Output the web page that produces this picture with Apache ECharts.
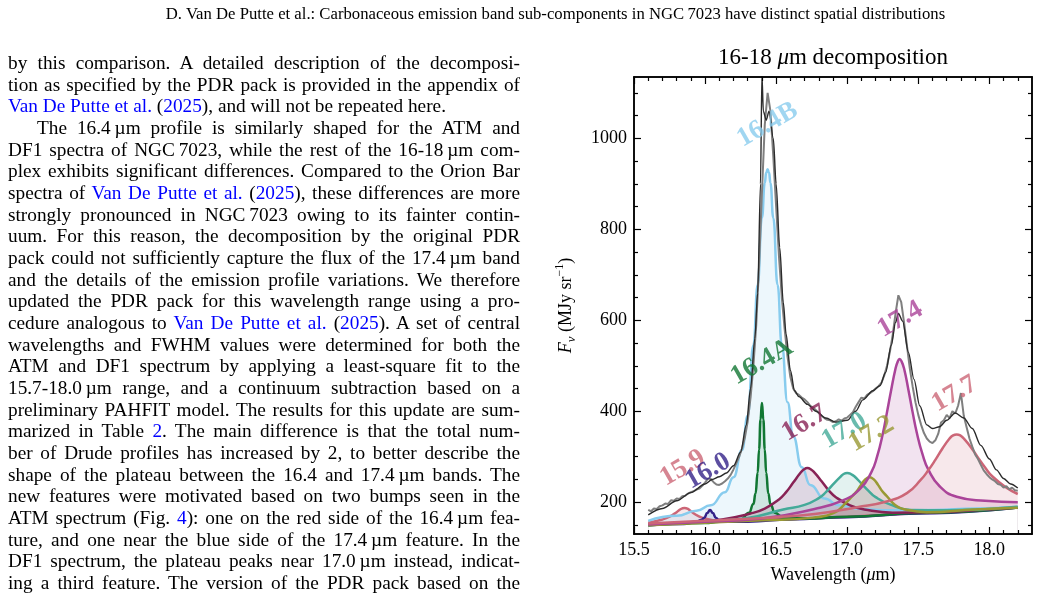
<!DOCTYPE html>
<html>
<head>
<meta charset="utf-8">
<script src="https://cdn.jsdelivr.net/npm/echarts@6/dist/echarts.min.js"></script>
<style>
html, body { margin: 0; padding: 0; background: #fff; }
#chart { position: absolute; left: 0; top: 0; width: 1039px; height: 604px; }
.page { position: absolute; font-family: "Liberation Serif", "Times New Roman", serif; color: #000; }
#header { left: 36px; top: 4px; width: 1039px; text-align: center; font-size: 16.7px; line-height: 20px; }
#col { left: 8px; top: 52px; width: 512px; font-size: 19.3px; line-height: 21.67px; }
#col div { text-align: justify; text-align-last: justify; white-space: nowrap; }
#col div.end { text-align-last: left; }
#col div.ind { text-indent: 29px; }
#col span { color: #0000ff; }
</style>
</head>
<body>
<div id="chart"></div>
<div id="header" class="page">D. Van De Putte et al.: Carbonaceous emission band sub-components in NGC&#8201;7023 have distinct spatial distributions</div>
<div id="col" class="page">
<div>by this comparison. A detailed description of the decomposi-</div>
<div>tion as specified by the PDR pack is provided in the appendix of</div>
<div class="end"><span>Van De Putte et al.</span> (<span>2025</span>), and will not be repeated here.</div>
<div class="ind">The 16.4&#8201;µm profile is similarly shaped for the ATM and</div>
<div>DF1 spectra of NGC&#8201;7023, while the rest of the 16-18&#8201;µm com-</div>
<div>plex exhibits significant differences. Compared to the Orion Bar</div>
<div>spectra of <span>Van De Putte et al.</span> (<span>2025</span>), these differences are more</div>
<div>strongly pronounced in NGC&#8201;7023 owing to its fainter contin-</div>
<div>uum. For this reason, the decomposition by the original PDR</div>
<div>pack could not sufficiently capture the flux of the 17.4&#8201;µm band</div>
<div>and the details of the emission profile variations. We therefore</div>
<div>updated the PDR pack for this wavelength range using a pro-</div>
<div>cedure analogous to <span>Van De Putte et al.</span> (<span>2025</span>). A set of central</div>
<div>wavelengths and FWHM values were determined for both the</div>
<div>ATM and DF1 spectrum by applying a least-square fit to the</div>
<div>15.7-18.0&#8201;µm range, and a continuum subtraction based on a</div>
<div>preliminary PAHFIT model. The results for this update are sum-</div>
<div>marized in Table <span>2</span>. The main difference is that the total num-</div>
<div>ber of Drude profiles has increased by 2, to better describe the</div>
<div>shape of the plateau between the 16.4 and 17.4&#8201;µm bands. The</div>
<div>new features were motivated based on two bumps seen in the</div>
<div>ATM spectrum (Fig. <span>4</span>): one on the red side of the 16.4&#8201;µm fea-</div>
<div>ture, and one near the blue side of the 17.4&#8201;µm feature. In the</div>
<div>DF1 spectrum, the plateau peaks near 17.0&#8201;µm instead, indicat-</div>
<div>ing a third feature. The version of the PDR pack based on the</div>
</div>
<script>
// ---- data: [wavelength (um), F_nu (MJy/sr)] ----
var continuum = [[15.6,148],[16.0,153],[16.5,160],[17.0,167],[17.5,175],[18.0,184],[18.2,188]];

var band159 = [[15.6,155],[15.7,162],[15.75,168],[15.8,178],[15.83,185],[15.855,187],[15.88,185],[15.9,180],[15.95,170],[16.0,164],[16.1,159],[16.3,160],[16.6,163],[17.0,168],[17.5,176],[18.2,189]];
var band160 = [[15.6,149],[15.85,152],[15.935,156],[15.975,161],[15.995,166],[16.015,176],[16.035,183],[16.055,176],[16.075,166],[16.095,161],[16.135,157],[16.3,157],[16.6,162],[17.0,167],[17.5,175],[18.2,188]];
var band164A = [[15.6,149],[16.0,154],[16.1,157],[16.25,162],[16.31,177],[16.34,196],[16.355,219],[16.37,265],[16.38,316],[16.39,382],[16.40,418],[16.41,382],[16.42,316],[16.43,265],[16.445,219],[16.46,196],[16.49,177],[16.55,166],[16.7,164],[17.0,168],[17.5,176],[18.2,188]];
var band164B = [[15.6,159],[15.8,170],[15.94,181],[16.04,193],[16.14,222],[16.2,255],[16.26,315],[16.3,390],[16.34,545],[16.37,678],[16.40,825],[16.42,902],[16.43,925],[16.44,932],[16.45,925],[16.46,902],[16.48,825],[16.51,678],[16.54,545],[16.58,420],[16.62,345],[16.68,277],[16.74,238],[16.84,208],[16.94,193],[17.1,185],[17.3,182],[17.6,183],[17.9,186],[18.2,190]];
var band167 = [[15.6,151],[15.9,156],[16.12,162],[16.32,175],[16.42,186],[16.52,206],[16.57,222],[16.62,243],[16.67,264],[16.695,272],[16.72,275],[16.745,272],[16.77,265],[16.82,246],[16.87,226],[16.92,211],[17.02,193],[17.12,184],[17.32,177],[17.6,178],[18.0,184],[18.2,188]];
var band170 = [[15.6,150],[16.0,158],[16.3,165],[16.55,184],[16.7,194],[16.8,209],[16.85,222],[16.9,239],[16.95,255],[16.975,262],[17.0,264],[17.025,262],[17.05,257],[17.1,241],[17.15,225],[17.2,211],[17.3,195],[17.45,183],[17.7,182],[18.2,190]];
var band172 = [[15.6,149],[16.4,160],[16.76,166],[16.91,177],[16.977,194],[17.037,214],[17.067,224],[17.097,238],[17.127,250],[17.157,255],[17.187,250],[17.217,238],[17.247,224],[17.277,214],[17.337,194],[17.407,184],[17.557,178],[17.9,184],[18.2,188]];
var band174 = [[15.6,151],[16.0,157],[16.4,164],[16.77,185],[16.97,204],[17.09,229],[17.17,266],[17.21,300],[17.25,350],[17.28,398],[17.31,448],[17.34,494],[17.355,509],[17.368,515],[17.383,509],[17.40,494],[17.43,448],[17.46,398],[17.49,352],[17.53,305],[17.57,272],[17.65,235],[17.77,212],[17.97,203],[18.2,200]];
var band177 = [[15.6,153],[16.0,159],[16.5,167],[16.77,174],[17.07,189],[17.27,201],[17.42,220],[17.52,250],[17.57,270],[17.62,293],[17.67,318],[17.72,340],[17.745,347],[17.77,349],[17.795,347],[17.82,340],[17.87,321],[17.92,298],[17.97,276],[18.02,257],[18.12,232],[18.2,218]];

var modelTotal = [[15.6,172],[15.7,186],[15.8,203],[15.9,221],[16.0,240],[16.05,250],[16.1,256],[16.15,264],[16.2,280],[16.25,310],[16.29,370],[16.32,450],[16.35,560],[16.37,660],[16.39,900],[16.40,1140],[16.41,1060],[16.43,1040],[16.45,1060],[16.48,1000],[16.5,900],[16.525,760],[16.55,640],[16.57,570],[16.6,490],[16.63,445],[16.66,432],[16.72,415],[16.78,400],[16.85,385],[16.92,376],[17.0,380],[17.06,400],[17.11,425],[17.18,445],[17.23,456],[17.27,485],[17.31,545],[17.34,595],[17.36,615],[17.39,598],[17.43,530],[17.47,470],[17.51,412],[17.56,370],[17.6,362],[17.65,366],[17.7,380],[17.76,396],[17.82,385],[17.88,362],[17.94,325],[18.0,295],[18.05,271],[18.1,252],[18.15,240],[18.2,231]];

var observed = [[15.60,183],[15.62,180],[15.64,186],[15.66,185],[15.68,191],[15.70,193],[15.72,197],[15.74,196],[15.76,204],[15.78,203],[15.80,208],[15.82,207],[15.84,213],[15.86,214],[15.88,219],[15.90,222],[15.92,224],[15.94,228],[15.96,230],[15.98,236],[16.00,243],[16.02,252],[16.04,251],[16.06,244],[16.08,239],[16.10,238],[16.12,241],[16.14,246],[16.16,252],[16.18,260],[16.20,272],[16.22,286],[16.24,300],[16.26,318],[16.28,342],[16.30,378],[16.32,430],[16.34,500],[16.36,590],[16.38,720],[16.40,880],[16.42,1030],[16.44,1100],[16.46,1060],[16.48,960],[16.50,850],[16.52,740],[16.54,650],[16.56,580],[16.58,520],[16.60,475],[16.62,450],[16.64,440],[16.66,436],[16.68,430],[16.70,426],[16.72,420],[16.74,412],[16.76,408],[16.78,402],[16.80,396],[16.82,390],[16.84,385],[16.86,381],[16.88,380],[16.90,376],[16.92,378],[16.94,382],[16.96,379],[16.98,384],[17.00,386],[17.02,392],[17.04,398],[17.06,410],[17.08,420],[17.10,430],[17.12,428],[17.14,436],[17.16,440],[17.18,444],[17.20,450],[17.22,455],[17.24,462],[17.26,478],[17.28,500],[17.30,530],[17.32,568],[17.34,615],[17.36,655],[17.38,640],[17.40,595],[17.42,545],[17.44,495],[17.46,455],[17.48,420],[17.50,392],[17.52,370],[17.54,352],[17.56,340],[17.58,333],[17.60,330],[17.62,336],[17.64,350],[17.66,375],[17.68,380],[17.70,392],[17.72,385],[17.74,400],[17.76,395],[17.78,412],[17.80,440],[17.82,390],[17.84,365],[17.86,340],[17.88,322],[17.90,305],[17.92,295],[17.94,282],[17.96,270],[17.98,262],[18.00,255],[18.02,250],[18.04,246],[18.06,240],[18.08,238],[18.10,232],[18.12,235],[18.14,228],[18.16,232],[18.18,226],[18.20,225]];

var bandNames = ['15.9', '16.0', '16.4A', '16.4B', '16.7', '17.0', '17.2', '17.4', '17.7'];
var labelSpots = [[15.843,275],[16.02,268],[16.40,508],[16.44,1030],[16.70,374],[16.98,357],[17.17,350],[17.373,602],[17.755,438]];

var xMajor = [15.5, 16.0, 16.5, 17.0, 17.5, 18.0];
var xMinor = [15.6,15.7,15.8,15.9,16.1,16.2,16.3,16.4,16.6,16.7,16.8,16.9,17.1,17.2,17.3,17.4,17.6,17.7,17.8,17.9,18.1,18.2];
var yMajor = [200, 400, 600, 800, 1000];
var yMinor = [150,250,300,350,450,500,550,650,700,750,850,900,950,1050,1100];

// ---- styles ----
var bandData = [band159, band160, band164A, band164B, band167, band170, band172, band174, band177];
var bandColors = ['#cc6677', '#332288', '#117733', '#88ccee', '#882255', '#44aa99', '#999933', '#aa4499', '#cc6677'];
// narrow bands keep monotone smoothing so the spikes do not overshoot
var bandMonotone = [false, true, true, true, false, false, false, false, false];
var serif = '"Liberation Serif", "Times New Roman", serif';

var chart = echarts.init(document.getElementById('chart'), null, { renderer: 'canvas' });

function xAxisDef(pos, ticks, len, withLabels) {
	return {
		type: 'value', position: pos, min: 15.5, max: 18.3, z: 10,
		axisLine: { show: true, onZero: false, lineStyle: { color: '#000', width: 1.5 } },
		axisTick: { show: true, inside: true, length: len, customValues: ticks, lineStyle: { color: '#000', width: 1.2 } },
		axisLabel: { show: withLabels, customValues: ticks, margin: 7, fontSize: 18, fontFamily: serif, color: '#000',
			formatter: function (v) { return v.toFixed(1); } },
		splitLine: { show: false }
	};
}
function yAxisDef(pos, ticks, len, withLabels) {
	return {
		type: 'value', position: pos, min: 130, max: 1135, z: 10,
		axisLine: { show: true, onZero: false, lineStyle: { color: '#000', width: 1.5 } },
		axisTick: { show: true, inside: true, length: len, customValues: ticks, lineStyle: { color: '#000', width: 1.2 } },
		axisLabel: { show: withLabels, customValues: ticks, margin: 7, fontSize: 18, fontFamily: serif, color: '#000',
			formatter: function (v) { return String(v); } },
		splitLine: { show: false }
	};
}

var xAxes = [xAxisDef('bottom', xMajor, 7, true), xAxisDef('bottom', xMinor, 4, false),
	xAxisDef('top', xMajor, 7, false), xAxisDef('top', xMinor, 4, false)];
xAxes[0].name = 'Wavelength ({i|μ}m)';
xAxes[0].nameLocation = 'middle';
xAxes[0].nameGap = 32;
xAxes[0].nameTextStyle = { fontSize: 18, fontFamily: serif, color: '#000',
	rich: { i: { fontSize: 18, fontFamily: serif, fontStyle: 'italic', color: '#000' } } };

var yAxes = [yAxisDef('left', yMajor, 7, true), yAxisDef('left', yMinor, 4, false),
	yAxisDef('right', yMajor, 7, false), yAxisDef('right', yMinor, 4, false)];
yAxes[0].name = '{i|F}{sub|ν} (MJy sr{sup|−1})';
yAxes[0].nameLocation = 'middle';
yAxes[0].nameRotate = 90;
yAxes[0].nameGap = 56;
yAxes[0].nameTextStyle = { fontSize: 18, fontFamily: serif, color: '#000', lineHeight: 24,
	rich: {
		i: { fontSize: 18, fontFamily: serif, fontStyle: 'italic', color: '#000', lineHeight: 24 },
		sub: { fontSize: 13, fontFamily: serif, fontStyle: 'italic', color: '#000', verticalAlign: 'bottom', lineHeight: 13 },
		sup: { fontSize: 12, fontFamily: serif, color: '#000', verticalAlign: 'top', lineHeight: 12 }
	} };

var series = [];
bandData.forEach(function (d, i) {
	var mono = bandMonotone[i] ? 'x' : null;
	// fill under the band (z 1)
	series.push({ type: 'line', data: d, smooth: 0.5, smoothMonotone: mono, symbol: 'none', z: 1,
		lineStyle: { width: 0 }, areaStyle: { color: bandColors[i], opacity: 0.15 }, silent: true });
	// outline (z 3)
	series.push({ type: 'line', data: d, smooth: 0.5, smoothMonotone: mono, symbol: 'none', z: 3,
		lineStyle: { color: bandColors[i], width: 2.5 }, silent: true });
});
// white mask below the continuum, so that fills only sit between continuum and band
series.push({ type: 'line', data: continuum, symbol: 'none', z: 2,
	lineStyle: { width: 0 }, areaStyle: { color: '#fff', opacity: 1 }, silent: true });
series.push({ type: 'line', data: observed, symbol: 'none', z: 4,
	lineStyle: { color: '#7f7f7f', width: 2 }, silent: true });
series.push({ type: 'line', data: modelTotal, smooth: 0.3, smoothMonotone: 'x', symbol: 'none', z: 5,
	lineStyle: { color: '#2b2b2b', width: 1.4 }, silent: true });
series.push({ type: 'scatter', z: 6, symbolSize: 1, itemStyle: { color: 'rgba(0,0,0,0)' }, silent: true,
	data: bandNames.map(function (n, i) {
		return { name: n, value: labelSpots[i],
			label: { show: true, position: 'inside', rotate: 30, formatter: '{b}', color: bandColors[i],
				fontSize: 27, fontWeight: 'bold', fontFamily: serif } };
	}) });

chart.setOption({
	animation: false,
	grid: { left: 634, right: 7, top: 77, bottom: 70 },
	xAxis: xAxes,
	yAxis: yAxes,
	graphic: [{
		type: 'text', x: 833, y: 58, z: 20,
		style: { text: '16-18 {i|μ}m decomposition', align: 'center', verticalAlign: 'middle',
			fontSize: 23, fontFamily: serif, fill: '#000',
			rich: { i: { fontSize: 23, fontFamily: serif, fontStyle: 'italic', fill: '#000' } } }
	}],
	series: series
});
</script>
</body>
</html>
